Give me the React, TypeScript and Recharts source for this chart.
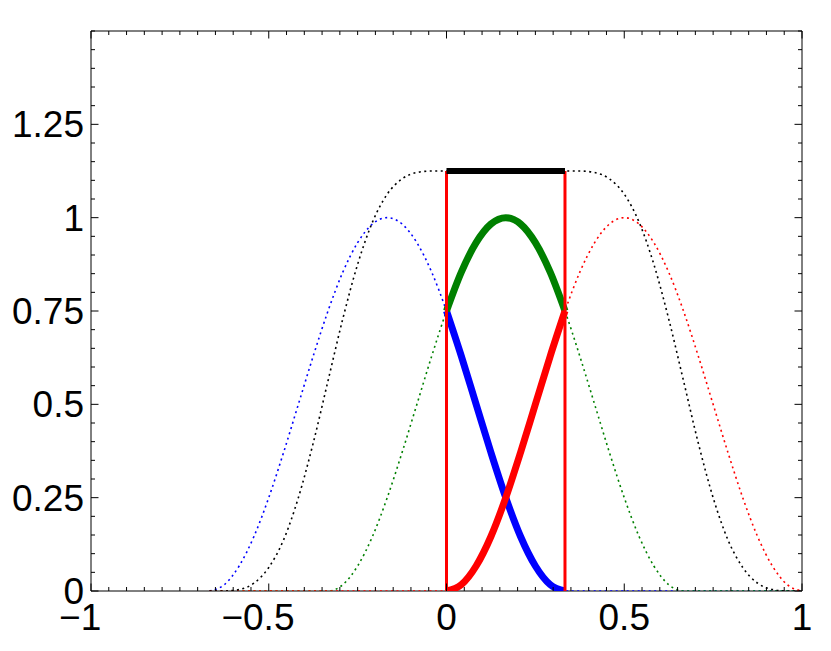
import { LineChart, Line, XAxis, YAxis, ReferenceArea } from 'recharts';

// sample positions for the dotted (full) curves
const xFull = [
  -0.6667, -0.625, -0.5833, -0.5417, -0.5, -0.4583, -0.4167, -0.375, -0.3333, -0.2917,
  -0.25, -0.2083, -0.1667, -0.125, -0.0833, -0.0417, 0, 0.0417, 0.0833, 0.125,
  0.1667, 0.2083, 0.25, 0.2917, 0.3333, 0.375, 0.4167, 0.4583, 0.5, 0.5417,
  0.5833, 0.625, 0.6667, 0.7083, 0.75, 0.7917, 0.8333, 0.875, 0.9167, 0.9583, 1,
];
const blueFull = [
  0, 0.017, 0.067, 0.146, 0.25, 0.371, 0.5, 0.629, 0.75, 0.854,
  0.933, 0.983, 1, 0.983, 0.933, 0.854, 0.75, 0.629, 0.5, 0.371,
  0.25, 0.146, 0.067, 0.017, 0, 0, 0, 0, 0, 0,
  0, 0, 0, 0, 0, 0, 0, 0, 0, 0, 0,
];
const greenFull = [
  0, 0, 0, 0, 0, 0, 0, 0, 0, 0.017,
  0.067, 0.146, 0.25, 0.371, 0.5, 0.629, 0.75, 0.854, 0.933, 0.983,
  1, 0.983, 0.933, 0.854, 0.75, 0.629, 0.5, 0.371, 0.25, 0.146,
  0.067, 0.017, 0, 0, 0, 0, 0, 0, 0, 0, 0,
];
const redFull = [
  0, 0, 0, 0, 0, 0, 0, 0, 0, 0,
  0, 0, 0, 0, 0, 0, 0, 0.017, 0.067, 0.146,
  0.25, 0.371, 0.5, 0.629, 0.75, 0.854, 0.933, 0.983, 1, 0.983,
  0.933, 0.854, 0.75, 0.629, 0.5, 0.371, 0.25, 0.146, 0.067, 0.017, 0,
];
const blackFull = [
  0, 0, 0.004, 0.021, 0.063, 0.137, 0.25, 0.396, 0.563, 0.729,
  0.875, 0.988, 1.063, 1.104, 1.121, 1.125, 1.125, 1.125, 1.125, 1.125,
  1.125, 1.125, 1.125, 1.125, 1.125, 1.125, 1.121, 1.104, 1.063, 0.988,
  0.875, 0.729, 0.563, 0.396, 0.25, 0.137, 0.063, 0.021, 0.004, 0, 0,
];

// the element [0, 1/3]
const xElem = [0, 0.0417, 0.0833, 0.125, 0.1667, 0.2083, 0.25, 0.2917, 0.3333];
const blueElem = [0.75, 0.629, 0.5, 0.371, 0.25, 0.146, 0.067, 0.017, 0];
const greenElem = [0.75, 0.854, 0.933, 0.983, 1, 0.983, 0.933, 0.854, 0.75];
const redElem = [0, 0.017, 0.067, 0.146, 0.25, 0.371, 0.5, 0.629, 0.75];
const blackElem = [1.125, 1.125, 1.125, 1.125, 1.125, 1.125, 1.125, 1.125, 1.125];
const edges = [0, 0.3333];
const edgeTop = 1.125;

const xMajor = [-1, -0.5, 0, 0.5, 1];
const xMinor = [
  -1, -0.95, -0.9, -0.85, -0.8, -0.75, -0.7, -0.65, -0.6, -0.55, -0.5, -0.45, -0.4, -0.35,
  -0.3, -0.25, -0.2, -0.15, -0.1, -0.05, 0, 0.05, 0.1, 0.15, 0.2, 0.25, 0.3, 0.35, 0.4,
  0.45, 0.5, 0.55, 0.6, 0.65, 0.7, 0.75, 0.8, 0.85, 0.9, 0.95, 1,
];
const yMajor = [0, 0.25, 0.5, 0.75, 1, 1.25];
const yMinor = [
  0, 0.05, 0.1, 0.15, 0.2, 0.25, 0.3, 0.35, 0.4, 0.45, 0.5, 0.55, 0.6, 0.65, 0.7, 0.75,
  0.8, 0.85, 0.9, 0.95, 1, 1.05, 1.1, 1.15, 1.2, 1.25, 1.3, 1.35, 1.4, 1.45, 1.5,
];

const full = xFull.map((x, i) => ({
  x,
  blue: blueFull[i],
  green: greenFull[i],
  red: redFull[i],
  black: blackFull[i],
}));
const elem = (ys: number[]) => xElem.map((x, i) => ({ x, y: ys[i] }));
const edgeLine = (x: number) => [{ x, y: 0 }, { x, y: edgeTop }];

const W = 815;
const H = 635;
const LEFT = 83;
const RIGHT = 794;
const TOP = 23;
const BOTTOM = 583;
const FS = 37;
const FONT = '"Liberation Sans", Arial, Helvetica, sans-serif';

const isIn = (v: number, arr: number[]) => arr.some((m) => Math.abs(m - v) < 1e-6);

// rough width of a number string in Liberation Sans
const textW = (s: string) => s.split('').reduce((w, c) => w + (c === '.' ? 0.278 : 0.556), 0) * FS;

function XTick(props: any) {
  const { x, payload } = props;
  const v = payload.value as number;
  const major = isIn(v, xMajor);
  const len = major ? 7.5 : 4;
  const s = String(Math.abs(v));
  const half = textW(s) / 2;
  return (
    <g>
      <line x1={x} x2={x} y1={BOTTOM} y2={BOTTOM - len} stroke="#000" />
      <line x1={x} x2={x} y1={TOP} y2={TOP + len} stroke="#000" />
      {major && (
        <text x={x} y={BOTTOM + 39} textAnchor="middle" fontSize={FS} fontFamily={FONT} fill="#000">
          {s}
        </text>
      )}
      {major && v < 0 && (
        <text x={x - half} y={BOTTOM + 39} textAnchor="end" fontSize={FS} fontFamily={FONT} fill="#000">
          {'\u2212'}
        </text>
      )}
    </g>
  );
}

function YTick(props: any) {
  const { y, payload } = props;
  const v = payload.value as number;
  const major = isIn(v, yMajor);
  const len = major ? 7.5 : 4;
  return (
    <g>
      <line x1={LEFT} x2={LEFT + len} y1={y} y2={y} stroke="#000" />
      <line x1={RIGHT} x2={RIGHT - len} y1={y} y2={y} stroke="#000" />
      {major && (
        <text x={LEFT - 7} y={y + 13} textAnchor="end" fontSize={FS} fontFamily={FONT} fill="#000">
          {String(v)}
        </text>
      )}
    </g>
  );
}

const dotted = { strokeWidth: 1.6, strokeDasharray: '2 3.5', dot: false, isAnimationActive: false, type: 'monotone' as const };
const thick = { strokeWidth: 7, dot: false, isAnimationActive: false, type: 'monotone' as const };

export default function App() {
  return (
    <LineChart
      width={W}
      height={H}
      data={full}
      margin={{ top: TOP, right: W - RIGHT, left: 0, bottom: 0 }}
    >
      <XAxis
        dataKey="x"
        type="number"
        domain={[-1, 1]}
        ticks={xMinor}
        interval={0}
        allowDataOverflow
        axisLine={false}
        tickLine={false}
        tick={<XTick />}
        height={H - BOTTOM}
      />
      <YAxis
        type="number"
        domain={[0, 1.5]}
        ticks={yMinor}
        interval={0}
        allowDataOverflow
        axisLine={false}
        tickLine={false}
        tick={<YTick />}
        width={LEFT}
      />
      <ReferenceArea x1={-1} x2={1} y1={0} y2={1.5} fill="none" stroke="#000" strokeWidth={1} />

      <Line dataKey="blue" stroke="#0000ff" {...dotted} />
      <Line dataKey="green" stroke="#008000" {...dotted} />
      <Line dataKey="red" stroke="#ff0000" {...dotted} />
      <Line dataKey="black" stroke="#000000" {...dotted} />

      <Line data={elem(blueElem)} dataKey="y" stroke="#0000ff" {...thick} />
      <Line data={elem(greenElem)} dataKey="y" stroke="#008000" {...thick} />
      <Line data={elem(redElem)} dataKey="y" stroke="#ff0000" {...thick} />
      {edges.map((e) => (
        <Line key={e} data={edgeLine(e)} dataKey="y" stroke="#ff0000" strokeWidth={3} dot={false} isAnimationActive={false} type="linear" />
      ))}
      <Line data={elem(blackElem)} dataKey="y" stroke="#000000" {...thick} strokeWidth={6} />
    </LineChart>
  );
}
